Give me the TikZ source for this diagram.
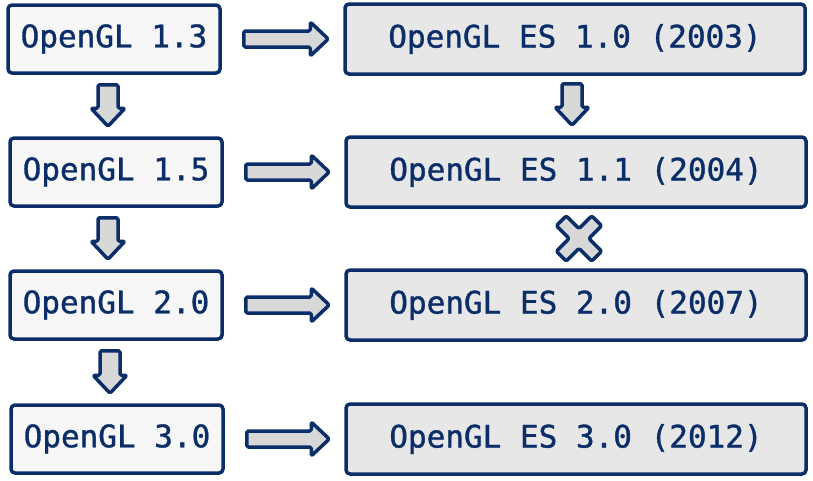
\documentclass[tikz,border=0pt]{standalone}
\usepackage{fontspec}
\newfontfamily\monofam[FakeBold=1.2]{DejaVu Sans Mono}
\usetikzlibrary{calc}
\definecolor{navy}{RGB}{12,46,104}
\definecolor{lightbox}{RGB}{247,247,247}
\definecolor{esbox}{RGB}{231,231,231}
\definecolor{arrfill}{RGB}{216,216,216}
\tikzset{
  glbox/.style={draw=navy, line width=3.5pt, rounded corners=4pt, fill=lightbox, minimum width=212pt, minimum height=68pt, text=navy, font=\monofam\fontsize{31}{36}\selectfont, inner sep=0pt},
  esbox/.style={glbox, fill=esbox, minimum width=460pt, minimum height=70pt},
  fatarrow/.style={draw=navy, line width=3.5pt, fill=arrfill, line join=round, rounded corners=1.5pt}
}
\newcommand{\harrowpath}[2]{%
  \draw[fatarrow] let \p1=#1, \p2=#2 in
    (\x1,\y1+8pt) -- (\x2-18pt,\y1+8pt) -- (\x2-18pt,\y1+17pt) -- (\x2,\y1) --
    (\x2-18pt,\y1-17pt) -- (\x2-18pt,\y1-8pt) -- (\x1,\y1-8pt) -- cycle;}
\newcommand{\varrowpath}[2]{%
  \draw[fatarrow] let \p1=#1, \p2=#2 in
    (\x1-10pt,\y1) -- (\x1-10pt,\y2+18pt) -- (\x1-17pt,\y2+18pt) -- (\x1,\y2) --
    (\x1+17pt,\y2+18pt) -- (\x1+10pt,\y2+18pt) -- (\x1+10pt,\y1) -- cycle;}
\begin{document}
\begin{tikzpicture}[x=1pt,y=-1pt]
\useasboundingbox (0,0) rectangle (813,480);
% left column
\node[glbox] (l1) at (114,39) {OpenGL 1.3};
\node[glbox] (l2) at (116,172) {OpenGL 1.5};
\node[glbox] (l3) at (116,305) {OpenGL 2.0};
\node[glbox] (l4) at (117,439) {OpenGL 3.0};
% right column
\node[esbox] (r1) at (575,39) {OpenGL ES 1.0 (2003)};
\node[esbox] (r2) at (576,172) {OpenGL ES 1.1 (2004)};
\node[esbox] (r3) at (576,305) {OpenGL ES 2.0 (2007)};
\node[esbox] (r4) at (576,439) {OpenGL ES 3.0 (2012)};
% horizontal arrows
\foreach \i in {1,2,3,4}{
  \path ($(l\i.east)+(22,0)$) coordinate (hs\i) ($(r\i.west)+(-15,0)$) coordinate (he\i);
  \harrowpath{(hs\i)}{(he\i)}
}
% vertical arrows left
\path (108,0 |- l1.south) ++(0,10) coordinate (vs1) (108,0 |- l2.north) ++(0,-10) coordinate (ve1);
\path (108,0 |- l2.south) ++(0,10) coordinate (vs2) (108,0 |- l3.north) ++(0,-10) coordinate (ve2);
\path (110,0 |- l3.south) ++(0,10) coordinate (vs3) (110,0 |- l4.north) ++(0,-10) coordinate (ve3);
\varrowpath{(vs1)}{(ve1)}
\varrowpath{(vs2)}{(ve2)}
\varrowpath{(vs3)}{(ve3)}
% vertical arrow right
\path (572,0 |- r1.south) ++(0,8) coordinate (vs4) (572,0 |- r2.north) ++(0,-10) coordinate (ve4);
\varrowpath{(vs4)}{(ve4)}
% cross between ES 1.1 and ES 2.0
\coordinate (xc) at ($(r2.south)!0.5!(r3.north)+(3,0)$);
\begin{scope}[shift={(xc)}, rotate=45]
\draw[fatarrow, rounded corners=2pt] (7,25) -- (7,7) -- (25,7) -- (25,-7) -- (7,-7) -- (7,-25) -- (-7,-25) -- (-7,-7) -- (-25,-7) -- (-25,7) -- (-7,7) -- (-7,25) -- cycle;
\end{scope}
\end{tikzpicture}
\end{document}
